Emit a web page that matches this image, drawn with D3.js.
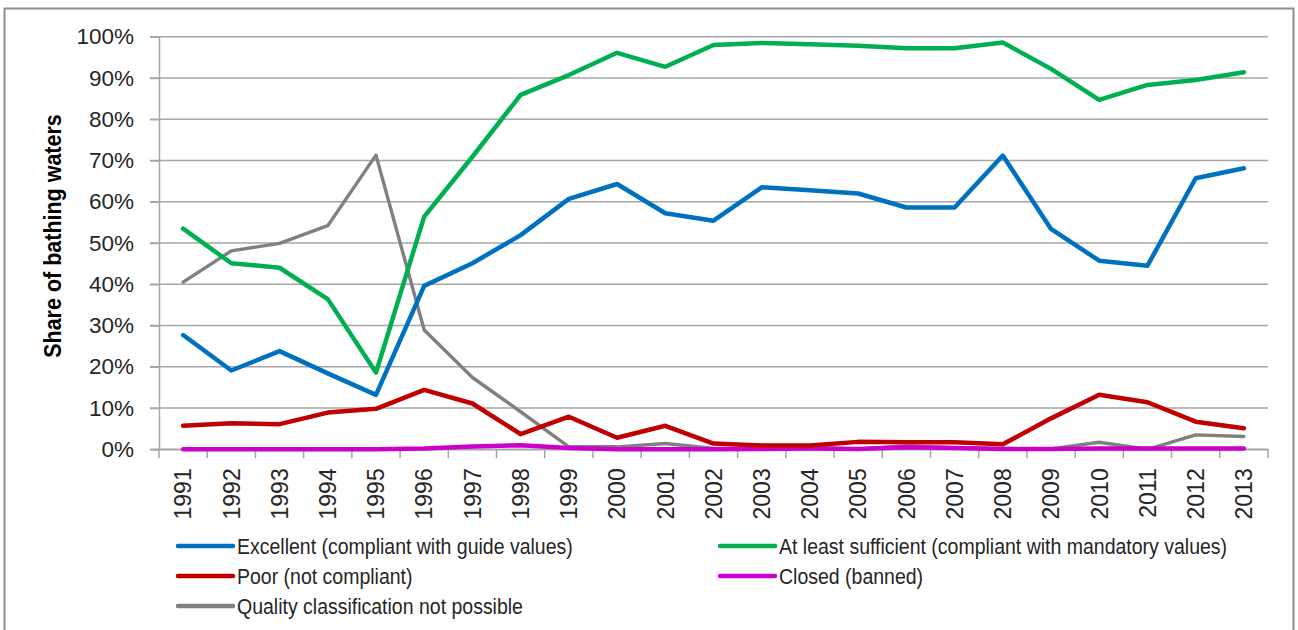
<!DOCTYPE html>
<html>
<head>
<meta charset="utf-8">
<script src="https://cdn.jsdelivr.net/npm/d3@7"></script>
<style>
  html, body { margin: 0; padding: 0; background: #fff; }
  svg { display: block; font-family: "Liberation Sans", Arial, sans-serif; }
</style>
</head>
<body>
<svg width="1298" height="630"></svg>
<script>
const years = ["1991","1992","1993","1994","1995","1996","1997","1998","1999","2000","2001","2002",
  "2003","2004","2005","2006","2007","2008","2009","2010","2011","2012","2013"];

// shares in percent
const excellent = [27.7,19.1,23.8,18.4,13.2,39.6,45.1,51.9,60.7,64.3,57.2,55.4,63.5,62.8,62.0,58.6,58.6,71.2,53.4,45.7,44.5,65.7,68.1];
const sufficient = [53.5,45.1,44.0,36.4,18.6,56.4,70.9,85.9,90.7,96.1,92.7,98.0,98.5,98.2,97.8,97.2,97.2,98.6,92.2,84.7,88.3,89.5,91.4];
const poor = [5.7,6.3,6.1,8.9,9.8,14.4,11.1,3.7,7.9,2.8,5.7,1.4,0.9,0.9,1.8,1.7,1.7,1.2,7.5,13.2,11.4,6.7,5.1];
const closed = [0,0,0,0,0,0.2,0.7,1.0,0.3,0,0,0,0.1,0.2,0.1,0.5,0.3,0.1,0.1,0.2,0.2,0.2,0.2];
const notPossible = [40.5,48.1,49.9,54.2,71.3,28.9,17.4,9.1,0.6,0.6,1.4,0.2,0.2,0.4,0.1,0.8,0.4,0.2,0.1,1.7,0,3.5,3.1];

const yTicks = [0,10,20,30,40,50,60,70,80,90,100];

const series = [
  { name: "Excellent (compliant with guide values)", values: excellent, color: "#0070c0", width: 4.5, col: 0, row: 0 },
  { name: "At least sufficient (compliant with mandatory values)", values: sufficient, color: "#00b050", width: 4.5, col: 1, row: 0 },
  { name: "Poor (not compliant)", values: poor, color: "#c00000", width: 4.5, col: 0, row: 1 },
  { name: "Closed (banned)", values: closed, color: "#cc00cc", width: 4.5, col: 1, row: 1 },
  { name: "Quality classification not possible", values: notPossible, color: "#808080", width: 3.4, col: 0, row: 2 }
];

const svg = d3.select("svg");
const plotLeft = 159, plotRight = 1268, plotTop = 36.7, plotBottom = 449.3;

// outer frame
svg.append("rect")
  .attr("x", 4.5).attr("y", 8.5)
  .attr("width", 1289).attr("height", 640)
  .attr("fill", "#fff")
  .attr("stroke", "#8c8c8c")
  .attr("stroke-width", 2);

const x = d3.scaleBand().domain(years).range([plotLeft, plotRight]);
const y = d3.scaleLinear().domain([0, 100]).range([plotBottom, plotTop]);

// gridlines
svg.append("g")
  .selectAll("line")
  .data(yTicks)
  .join("line")
  .attr("x1", plotLeft - 9).attr("x2", plotRight)
  .attr("y1", d => y(d)).attr("y2", d => y(d))
  .attr("stroke", "#a6a6a6")
  .attr("stroke-width", 1.5);

// y axis
const yAxis = svg.append("g")
  .attr("transform", `translate(${plotLeft},0)`)
  .call(d3.axisLeft(y).tickValues(yTicks).tickFormat(d => d + "%").tickSize(9).tickPadding(16));
yAxis.select(".domain").attr("stroke", "#a6a6a6").attr("stroke-width", 1.5);
yAxis.selectAll(".tick line").attr("stroke", "#a6a6a6").attr("stroke-width", 1.5);
yAxis.selectAll("text")
  .attr("fill", "#262626")
  .style("font-size", "22.5px");

// x axis: Excel style ticks between categories
const xAxis = svg.append("g")
  .attr("transform", `translate(0,${plotBottom})`)
  .call(d3.axisBottom(x).tickSize(0).tickPadding(0));
xAxis.select(".domain").attr("stroke", "#a6a6a6").attr("stroke-width", 1.5);
xAxis.selectAll(".tick text")
  .attr("fill", "#262626")
  .style("font-size", "23px")
  .attr("text-anchor", "end")
  .attr("transform", "rotate(-90)")
  .attr("x", -19)
  .attr("y", 0)
  .attr("dy", "0.36em");

const edges = years.map(d => x(d)).concat([x(years[years.length - 1]) + x.bandwidth()]);
xAxis.append("g")
  .selectAll("line")
  .data(edges)
  .join("line")
  .attr("x1", d => d).attr("x2", d => d)
  .attr("y1", 0).attr("y2", 9)
  .attr("stroke", "#a6a6a6")
  .attr("stroke-width", 1.5);

// y axis title (glyphs a bit taller than wide, like the source)
svg.append("text")
  .attr("transform", "translate(52,236) rotate(-90) scale(1,1.15)")
  .attr("text-anchor", "middle")
  .attr("dy", "0.36em")
  .attr("fill", "#000")
  .style("font-size", "21.5px")
  .style("font-weight", "bold")
  .text("Share of bathing waters");

// lines
const line = d3.line()
  .x((d, i) => x(years[i]) + x.bandwidth() / 2)
  .y(d => y(d));

const drawOrder = [series[4], series[3], series[2], series[0], series[1]];
svg.append("g")
  .selectAll("path")
  .data(drawOrder)
  .join("path")
  .attr("fill", "none")
  .attr("stroke", d => d.color)
  .attr("stroke-width", d => d.width)
  .attr("stroke-linejoin", "round")
  .attr("stroke-linecap", "round")
  .attr("d", d => line(d.values));

// legend
const colX = [178, 720];
const rowY = [546, 576, 606];
const legend = svg.append("g")
  .selectAll("g")
  .data(series)
  .join("g")
  .attr("transform", d => `translate(${colX[d.col]},${rowY[d.row]})`);

legend.append("line")
  .attr("x1", 0).attr("x2", 55)
  .attr("stroke", d => d.color)
  .attr("stroke-width", 4.5)
  .attr("stroke-linecap", "round");

legend.append("text")
  .attr("transform", "translate(59,0) scale(1,1.15)")
  .attr("dy", "0.36em")
  .attr("fill", "#262626")
  .style("font-size", "19.5px")
  .text(d => d.name);
</script>
</body>
</html>
